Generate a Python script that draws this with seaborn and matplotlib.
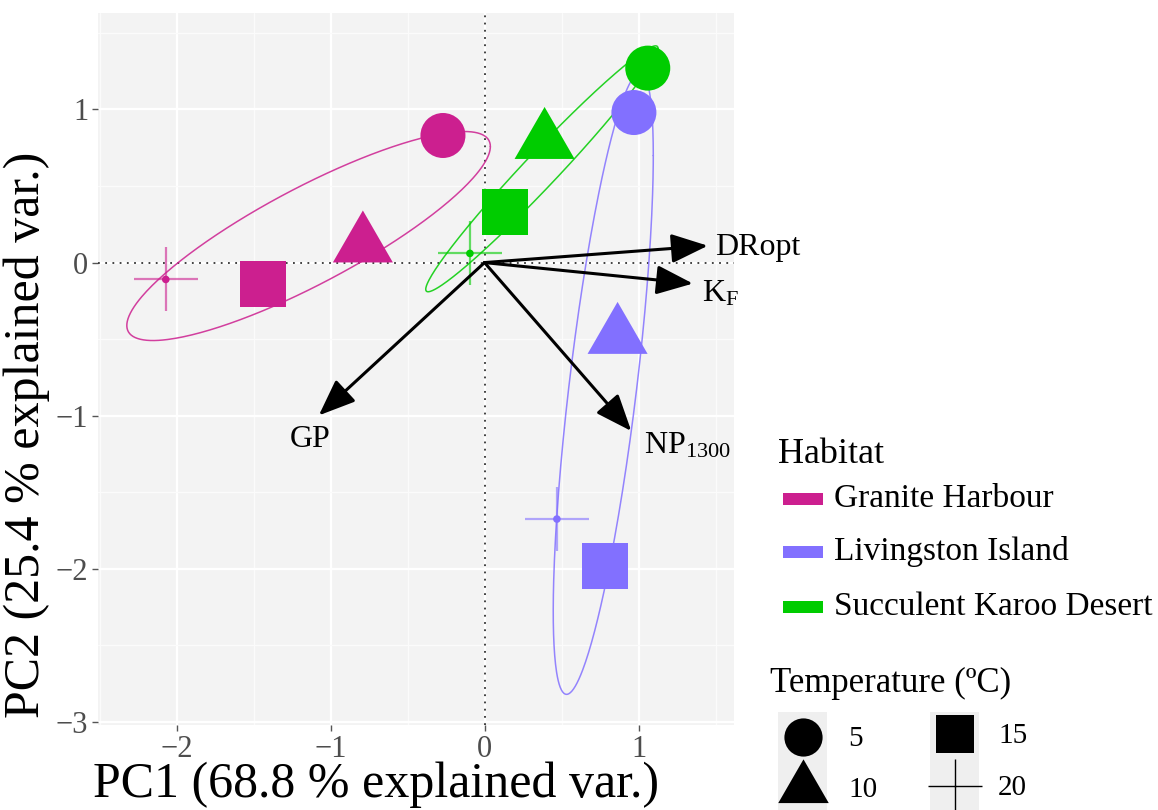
import numpy as np
import pandas as pd
import matplotlib
matplotlib.use("Agg")
import matplotlib.pyplot as plt
import seaborn as sns
from matplotlib.lines import Line2D
from matplotlib.patches import Rectangle

# ---------------- data ----------------
habitats = ["Granite Harbour", "Livingston Island", "Succulent Karoo Desert"]
temps = ["5", "10", "15", "20"]
habitat = ["Granite Harbour"] * 4 + ["Livingston Island"] * 4 + ["Succulent Karoo Desert"] * 4
temperature = ["5", "10", "15", "20"] * 3
pc1 = [-0.27, -0.79, -1.44, -2.07, 0.97, 0.864, 0.78, 0.47, 1.06, 0.39, 0.134, -0.095]
pc2 = [0.83, 0.114, -0.14, -0.11, 0.98, -0.483, -1.98, -1.675, 1.27, 0.79, 0.33, 0.06]

var_labels = ["DRopt", r"K$_\mathregular{F}$", r"NP$_\mathregular{1300}$", "GP"]
load_x = [1.45, 1.353, 0.953, -1.076]
load_y = [0.11, -0.137, -1.10, -0.998]

colors = ["#CC1F8F", "#8270FF", "#00CC00"]
xlabel = "PC1 (68.8 % explained var.)"
ylabel = "PC2 (25.4 % explained var.)"
legend1_title = "Habitat"
legend2_title = "Temperature (ºC)"

df = pd.DataFrame({"PC1": pc1, "PC2": pc2, "Habitat": habitat, "Temperature": temperature})
palette = dict(zip(habitats, colors))

# ---------------- style ----------------
sns.set_theme(style="darkgrid", rc={"axes.facecolor": "#F3F3F3", "grid.color": "white"})
plt.rcParams["font.family"] = ["Liberation Serif", "DejaVu Serif"]
plt.rcParams["text.color"] = "black"
plt.rcParams["mathtext.fontset"] = "custom"
plt.rcParams["mathtext.rm"] = "Liberation Serif"
plt.rcParams["mathtext.it"] = "Liberation Serif:italic"

W, H = 1158, 810
fig = plt.figure(figsize=(W / 100, H / 100), dpi=100)
ax = fig.add_axes([98 / W, (H - 725) / H, 636 / W, 712 / H])

def fx(px):
    return px / W

def fy(py):
    return (H - py) / H

tri = [(0, 0.57735), (-0.5, -0.288675), (0.5, -0.288675)]
markers = {"5": "o", "10": tri, "15": "s"}
sizes = {"5": 1050, "10": 2490, "15": 1090}

# ellipses (68% normal-probability, as in ggbiplot)
ed = np.sqrt(-2 * np.log(1 - 0.68))
t = np.linspace(0, 2 * np.pi, 300)
circ = np.column_stack([np.cos(t), np.sin(t)])
for h, c in zip(habitats, colors):
    sub = df[df.Habitat == h][["PC1", "PC2"]].to_numpy()
    mu = sub.mean(axis=0)
    sig = np.cov(sub.T)
    L = np.linalg.cholesky(sig)
    pts = mu + ed * circ @ L.T
    ax.plot(pts[:, 0], pts[:, 1], color=c, lw=1.1, alpha=0.85, zorder=2)

# reference lines
ax.axhline(0, color="#333333", lw=1.3, ls=(0, (1, 3)), zorder=1.5)
ax.axvline(0, color="#333333", lw=1.3, ls=(0, (1, 3)), zorder=1.5)

# filled points
for tp in ["5", "10", "15"]:
    sns.scatterplot(data=df[df.Temperature == tp], x="PC1", y="PC2", hue="Habitat",
                    palette=palette, marker=markers[tp], s=sizes[tp], linewidth=0,
                    legend=False, ax=ax, zorder=3)
# 20 degree crosses
d20 = df[df.Temperature == "20"]
sns.scatterplot(data=d20, x="PC1", y="PC2", hue="Habitat", palette=palette, marker="+",
                s=46 ** 2, linewidth=1.6, alpha=0.6, legend=False, ax=ax, zorder=3)
sns.scatterplot(data=d20, x="PC1", y="PC2", hue="Habitat", palette=palette, marker="o",
                s=30, linewidth=0, legend=False, ax=ax, zorder=3)

# loading arrows
offsets = [(5, -6.5, "left"), (6.5, -13, "left"), (9.5, -16.5, "left"), (-6.5, -22.5, "center")]
for lx, ly, lab, (ox, oy, ha) in zip(load_x, load_y, var_labels, offsets):
    ax.annotate("", xy=(lx, ly), xytext=(0, 0),
                arrowprops=dict(arrowstyle="-|>,head_length=1.5,head_width=0.6",
                                lw=2.2, color="black", shrinkA=0, shrinkB=0,
                                mutation_scale=15), zorder=4)
    ax.annotate(lab, xy=(lx, ly), xytext=(ox, oy), textcoords="offset points",
                ha=ha, va="baseline", fontsize=23, color="black", zorder=5)

# axes
ax.set_xlim(-2.51, 1.62)
ax.set_ylim(-3.02, 1.63)
ax.set_xticks([-2, -1, 0, 1])
ax.set_yticks([-3, -2, -1, 0, 1])
ax.set_xticks([-2.5, -1.5, -0.5, 0.5, 1.5], minor=True)
ax.set_yticks([-2.5, -1.5, -0.5, 0.5, 1.5], minor=True)
ax.set_xticklabels(["\u22122", "\u22121", "0", "1"])
ax.set_yticklabels(["\u22123", "\u22122", "\u22121", "0", "1"])
ax.grid(which="major", color="white", lw=1.6)
ax.grid(which="minor", color="#FBFBFB", lw=0.9)
ax.tick_params(axis="both", which="major", length=4, width=1, color="#555555",
               labelsize=22, labelcolor="#4D4D4D", pad=3, bottom=True, left=True)
ax.tick_params(which="minor", length=0)
for s in ax.spines.values():
    s.set_visible(False)
ax.set_xlabel("")
ax.set_ylabel("")

fig.text(fx(376), fy(797), xlabel, ha="center", va="baseline", fontsize=36, color="black")
fig.text(fx(27), fy(435), ylabel, ha="center", va="center", rotation=90, fontsize=36, color="black")

# ---------------- legends ----------------
fig.text(fx(778), fy(463), legend1_title, ha="left", va="baseline", fontsize=26)
key_y = [499, 552, 607]
for h, c, yk in zip(habitats, colors, key_y):
    fig.patches.append(Rectangle((fx(783), fy(yk + 6)), 40 / W, 12 / H, transform=fig.transFigure,
                                 facecolor=c, edgecolor="none"))
    fig.text(fx(834), fy(yk + 8), h, ha="left", va="baseline", fontsize=24)

fig.text(fx(770), fy(692), legend2_title, ha="left", va="baseline", fontsize=25)
for x0 in [778, 930]:
    fig.patches.append(Rectangle((fx(x0), fy(812)), 49 / W, 100 / H, transform=fig.transFigure,
                                 facecolor="#EFEFEF", edgecolor="none"))
key_specs = [
    ("5", 803, 737, "o", 27.5, 848),
    ("10", 803, 788, tri, 42, 848),
    ("15", 955, 734, "s", 27.5, 998),
    ("20", 955, 786, "+", 39, 998),
]
for lab, kx, ky, mk, ms, tx in key_specs:
    fig.add_artist(Line2D([fx(kx)], [fy(ky)], transform=fig.transFigure, marker=mk,
                          markersize=ms, color="black", markeredgewidth=1.0 if mk == "+" else 0,
                          linestyle="none"))
    fig.text(fx(tx), fy(ky + 9), lab, ha="left", va="baseline", fontsize=21)

fig.savefig("out.png", dpi=100)
